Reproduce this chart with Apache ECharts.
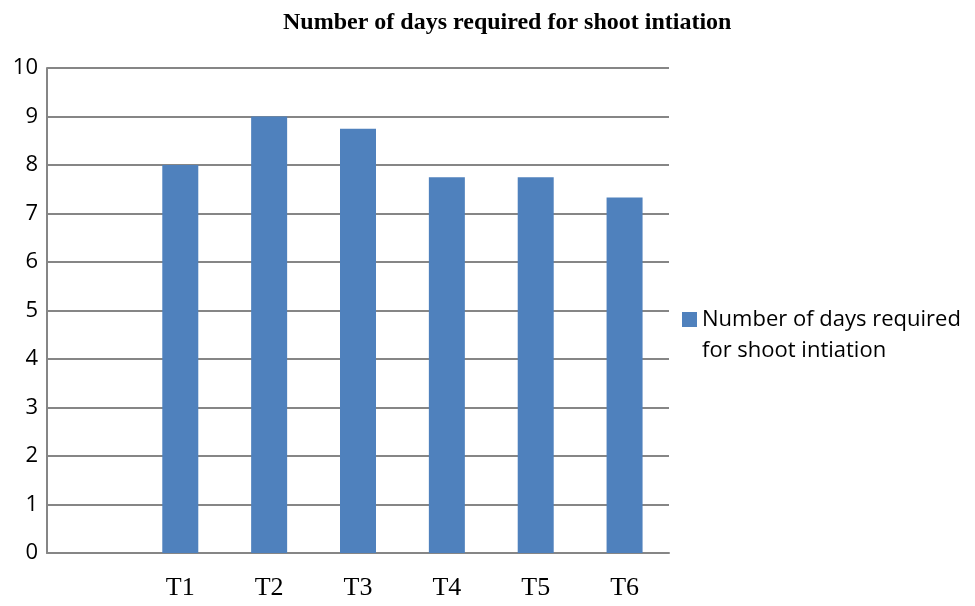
<!DOCTYPE html>
<html>
<head>
    <meta charset="utf-8">
    <script src="https://cdn.jsdelivr.net/npm/echarts@6/dist/echarts.min.js"></script>
    <style>
        body, html {
            margin: 0;
            height: 100%;
            background: #fff;
        }
        #main {
            width: 975px;
            height: 606px;
        }
    </style>
</head>
<body>
<div id="main"></div>

<script>
    // first category has no label and no bar, like the original sheet
    var categories = ['', 'T1', 'T2', 'T3', 'T4', 'T5', 'T6'];
    var days = [null, 8, 9, 8.75, 7.75, 7.75, 7.33];
    var seriesName = 'Number of days required for shoot intiation';

    var myChart = echarts.init(document.getElementById('main'));
    var option = {
        animation: false,
        title: {
            text: seriesName,
            left: 278,
            top: 6,
            textStyle: {
                fontFamily: 'Liberation Serif',
                fontWeight: 'bold',
                fontSize: 24,
                color: '#000'
            }
        },
        legend: {
            orient: 'vertical',
            left: 677,
            top: 268,
            itemWidth: 15,
            itemHeight: 15,
            itemGap: 0,
            icon: 'rect',
            // blank first line so the square lines up with "Number of days required"
            formatter: function () {
                return ' \nNumber of days required\nfor shoot intiation';
            },
            textStyle: {
                fontFamily: 'Open Sans',
                fontSize: 22,
                lineHeight: 31,
                color: '#000'
            }
        },
        grid: {
            left: 47,
            top: 68,
            width: 622,
            bottom: 53,
            containLabel: false
        },
        xAxis: {
            type: 'category',
            data: categories,
            axisTick: {show: false},
            axisLine: {lineStyle: {color: '#868686', width: 2}},
            axisLabel: {
                margin: 22,
                fontFamily: 'Liberation Serif',
                fontSize: 26,
                color: '#000'
            }
        },
        yAxis: {
            type: 'value',
            min: 0,
            max: 10,
            interval: 1,
            axisLine: {show: true, lineStyle: {color: '#868686', width: 2}},
            axisTick: {show: false},
            splitLine: {lineStyle: {color: '#868686', width: 2}},
            axisLabel: {
                margin: 9,
                fontFamily: 'Open Sans',
                fontSize: 22,
                color: '#000'
            }
        },
        series: [
            {
                name: seriesName,
                type: 'bar',
                data: days,
                barWidth: 36,
                itemStyle: {color: '#4f81bd'}
            }
        ]
    };
    myChart.setOption(option);
</script>
</body>
</html>
